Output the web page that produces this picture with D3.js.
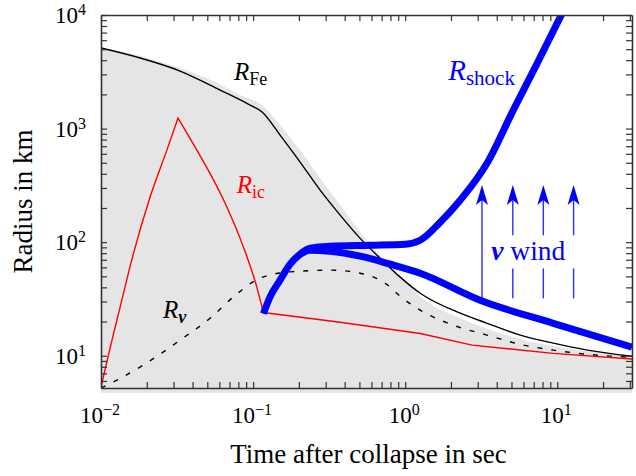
<!DOCTYPE html>
<html>
<head>
<meta charset="utf-8">
<script src="https://cdn.jsdelivr.net/npm/d3@7"></script>
<style>
body { margin: 0; background: #fff; }
svg { display: block; font-family: "Liberation Serif", "Times New Roman", serif; }
</style>
</head>
<body>
<div class="chart"></div>
<script>
// [time in s, radius in km]
const rFe = [[0.01,5120],[0.0181,4180],[0.0331,3211],[0.0607,2184],[0.0955,1611],[0.1146,1398],
  [0.1505,876],[0.2038,507],[0.276,287],[0.3736,173],[0.5058,108],[0.6845,72.3],[0.927,49.2],
  [1.255,35.5],[2.30,23.7],[3.46,19.3],[5.71,15.2],[9.41,12.9],[15.76,11.2],[31,9.9]];

const grayTop = [[0.01,5224],[0.0331,3412],[0.0562,2569],[0.0821,1974],[0.1146,1611],[0.1505,1074],
  [0.2038,646],[0.276,366],[0.3736,212],[0.5058,122.5],[0.6845,76.8],[0.927,51.2],[1.255,33.4],
  [2.30,21.4],[3.11,18.2],[5.71,14.0],[10.46,11.9],[19.2,10.7],[31,10.1]];
const grayFloor = 4.7;

// R_ic in three pieces: infall rise, fall, late contraction
const rIcRise = [[0.01,5.31],[0.01146,11.6],[0.0133,26.2],[0.01624,76.8],[0.021,249],[0.0271,646],[0.0321,1237]];
const rIcFall = [[0.0321,1237],[0.0427,646],[0.0521,403],[0.0671,205],[0.0863,90.9],[0.1057,40.4],[0.1169,24.0]];
const rIcLate = [[0.1169,24.0],[0.3736,19.7],[1.255,15.7],[2.76,12.4],[9.41,10.5],[31,9.37]];

const rNu = [[0.01,5.2],[0.01205,5.88],[0.0189,8.25],[0.0346,14.3],[0.0521,21.4],[0.0739,32.8],
  [0.111,48.2],[0.1751,54.7],[0.321,56.7],[0.5058,53.3],[0.7385,43.5],[0.927,33.4],[1.255,25.2],
  [2.07,18.6],[3.46,15.2],[5.71,12.6],[9.41,11.2],[15.76,10.3],[31,9.7]];

const rShock = [[0.1169,23.5],[0.1293,33.0],[0.1505,46.3],[0.1751,64.0],[0.2038,78.4],[0.2371,88.5],
  [0.321,92.2],[0.5883,94.1],[1.0,96.0],[1.255,104],[1.70,150],[2.30,234],[3.46,497],
  [5.14,1455],[7.39,3776],[10.79,10418]];

const rWind = [[0.2038,78.4],[0.2371,85.0],[0.321,83.3],[0.5058,75.3],[0.797,64.0],[1.255,53.3],
  [3.11,30.8],[9.41,19.3],[31,11.9]];

const windArrowT = [3.2, 5.1, 8.1, 12.8];
const arrowTip = 318, arrowBase = 32, gapLow = 58.7, gapHigh = 115;

const xTickExp = [-2, -1, 0, 1];
const yTickExp = [1, 2, 3, 4];

const W = 636, H = 476;
const x = d3.scaleLog().domain([0.01, 31]).range([101, 632]);
const y = d3.scaleLog().domain([5.2, 1e4]).range([388, 15]);

const svg = d3.select(".chart").append("svg")
  .attr("width", W).attr("height", H);

const defs = svg.append("defs");
defs.append("clipPath").attr("id", "plot")
  .append("rect").attr("x", 101).attr("y", 15).attr("width", 531).attr("height", 373);
defs.append("clipPath").attr("id", "fillclip")
  .append("rect").attr("x", 101).attr("y", 15).attr("width", 535).attr("height", 378);

const line = d3.line().x(d => x(d[0])).y(d => y(d[1]));
const smooth = d3.line().x(d => x(d[0])).y(d => y(d[1])).curve(d3.curveMonotoneX);

svg.append("path")
  .datum(grayTop)
  .attr("clip-path", "url(#fillclip)")
  .attr("fill", "#e5e5e5")
  .attr("d", d3.area().x(d => x(d[0])).y0(y(grayFloor)).y1(d => y(d[1])).curve(d3.curveMonotoneX));

const plot = svg.append("g").attr("clip-path", "url(#plot)");

plot.append("path").datum(rNu)
  .attr("fill", "none").attr("stroke", "#000").attr("stroke-width", 1.4)
  .attr("stroke-dasharray", "5,9")
  .attr("d", smooth);

plot.append("path").datum(rFe)
  .attr("fill", "none").attr("stroke", "#000").attr("stroke-width", 1.4)
  .attr("d", smooth);

[[rIcRise, smooth], [rIcFall, smooth], [rIcLate, line]].forEach(p => {
  plot.append("path").datum(p[0])
    .attr("fill", "none").attr("stroke", "#ff0000").attr("stroke-width", 1.4)
    .attr("stroke-linecap", "round")
    .attr("d", p[1]);
});

// neutrino wind arrows
windArrowT.forEach((t, i) => {
  const segs = i === 0 ? [[arrowBase, arrowTip]] : [[arrowBase, gapLow], [gapHigh, arrowTip]];
  segs.forEach(s => {
    const top = s[1] === arrowTip ? y(s[1]) + 12 : y(s[1]);
    plot.append("line")
      .attr("x1", x(t)).attr("x2", x(t))
      .attr("y1", y(s[0])).attr("y2", top)
      .attr("stroke", "#2b2bff").attr("stroke-width", 1.4);
  });
  plot.append("path")
    .attr("transform", `translate(${x(t)},${y(arrowTip)})`)
    .attr("d", "M0,0 L-6,20 L0,15 L6,20 Z")
    .attr("fill", "#0000ff");
});

plot.append("path").datum(rWind)
  .attr("fill", "none").attr("stroke", "#0000ff").attr("stroke-width", 7)
  .attr("stroke-linejoin", "round")
  .attr("d", smooth);

plot.append("path").datum(rShock)
  .attr("fill", "none").attr("stroke", "#0000ff").attr("stroke-width", 7)
  .attr("stroke-linejoin", "round")
  .attr("d", smooth);

// axes: inward ticks on all four sides
const axes = [
  [d3.axisBottom(x).tickValues(x.ticks()), `translate(0,${y.range()[0]})`],
  [d3.axisTop(x).tickValues(x.ticks()), `translate(0,${y.range()[1]})`],
  [d3.axisLeft(y).tickValues(y.ticks()), `translate(${x.range()[0]},0)`],
  [d3.axisRight(y).tickValues(y.ticks()), `translate(${x.range()[1]},0)`]
];
axes.forEach(a => {
  const g = svg.append("g").attr("transform", a[1])
    .call(a[0].tickSizeInner(-6).tickSizeOuter(0).tickFormat(""));
  g.select(".domain").attr("stroke", "#333").attr("stroke-width", 1.6);
  g.selectAll(".tick line").attr("stroke", "#333").attr("stroke-width", 1.2);
});

// tick labels with superscripts
xTickExp.forEach(e => {
  const t = svg.append("text")
    .attr("x", x(Math.pow(10, e)) - 1).attr("y", 423)
    .attr("text-anchor", "middle").attr("font-size", 23).attr("fill", "#000");
  t.append("tspan").text("10");
  t.append("tspan").attr("dy", -8).attr("font-size", 16)
    .text(e < 0 ? "\u2212" + (-e) : String(e));
});
yTickExp.forEach(e => {
  const t = svg.append("text")
    .attr("x", 86).attr("y", y(Math.pow(10, e)) + 8)
    .attr("text-anchor", "end").attr("font-size", 23).attr("fill", "#000");
  t.append("tspan").text("10");
  t.append("tspan").attr("dy", -8).attr("font-size", 16).text(String(e));
});

svg.append("text")
  .attr("x", (x.range()[0] + x.range()[1]) / 2 + 2).attr("y", 463)
  .attr("text-anchor", "middle").attr("font-size", 27)
  .text("Time after collapse in sec");

svg.append("text")
  .attr("transform", `translate(32,${(y.range()[0] + y.range()[1]) / 2}) rotate(-90)`)
  .attr("text-anchor", "middle").attr("font-size", 27)
  .text("Radius in km");

// curve labels
function label(t, r, main, sub, color, size, subSize, subBold) {
  const el = svg.append("text")
    .attr("x", x(t)).attr("y", y(r)).attr("fill", color).attr("font-size", size);
  el.append("tspan").attr("font-style", "italic").text(main);
  const s = el.append("tspan").attr("dy", 5).attr("font-size", subSize).text(sub);
  if (subBold) s.attr("font-style", "italic").attr("font-weight", "bold");
}
label(0.075, 2675, "R", "Fe", "#000", 25, 18, false);
label(0.0781, 270, "R", "ic", "#ff0000", 25, 18, false);
label(0.0256, 21.4, "R", "\u03bd", "#000", 25, 18, true);
label(1.918, 2675, "R", "shock", "#0000ff", 29, 21, false);

const nw = svg.append("text")
  .attr("x", x(3.68)).attr("y", y(69.4)).attr("fill", "#0000ff").attr("font-size", 27.5);
nw.append("tspan").attr("font-style", "italic").attr("font-weight", "bold").text("\u03bd");
nw.append("tspan").text(" wind");
</script>
</body>
</html>
